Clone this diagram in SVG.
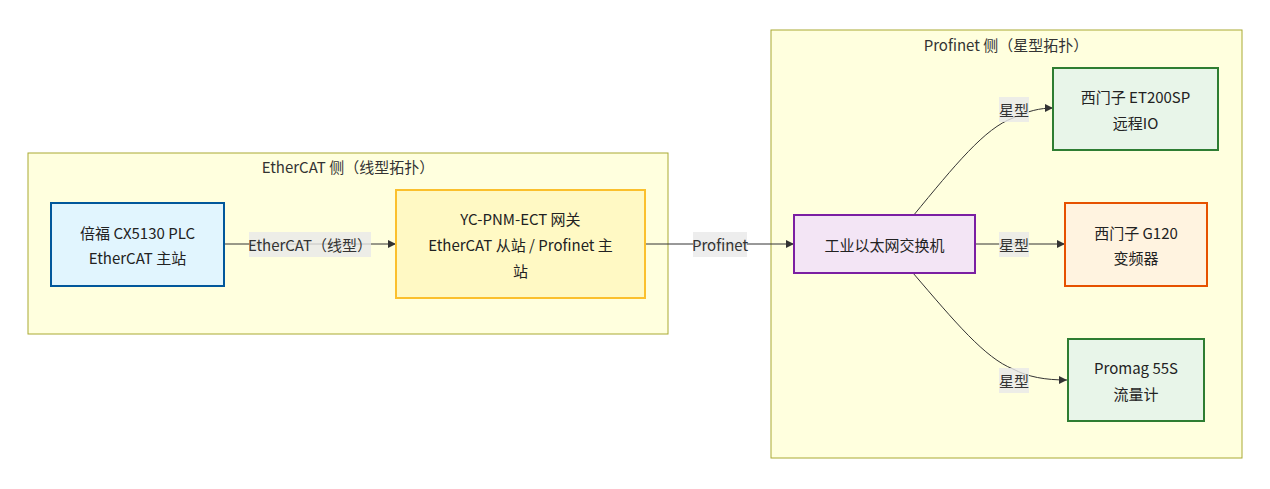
<svg xmlns="http://www.w3.org/2000/svg" width="1270" height="489" viewBox="0 0 1270 489">
<defs>
<marker id="arrow" viewBox="0 0 10 10" refX="10" refY="5" markerWidth="8" markerHeight="8" markerUnits="userSpaceOnUse" orient="auto">
<path d="M0,0 L10,5 L0,10 z" fill="#333333"/>
</marker>
</defs>
<style>
text{font-family:"Noto Sans CJK SC","Noto Sans",sans-serif;font-size:15px;fill:#333333;text-anchor:middle;dominant-baseline:central}
.cluster{fill:#ffffde;stroke:#aaaa33;stroke-width:1}
.node rect{stroke-width:2}
.edge{fill:none;stroke:#333333;stroke-width:1;marker-end:url(#arrow)}
.lbg{fill:#e8e8e8;opacity:0.8}
.ntext{fill:#222222}
</style>
<rect width="1270" height="489" fill="#ffffff"/>
<g id="cluster-ethercat">
<rect class="cluster" x="28" y="153" width="640" height="181"/>
<text x="348" y="166">EtherCAT 侧（线型拓扑）</text>
</g>
<g id="cluster-profinet">
<rect class="cluster" x="771" y="30" width="471" height="428"/>
<text x="1006" y="44">Profinet 侧（星型拓扑）</text>
</g>
<g id="connectors">
<path class="edge" d="M224,244 L396,244"/>
<path class="edge" d="M645,244 L794,244"/>
<path class="edge" d="M913,216 C955,165 985,128 1013,118 C1028,111 1040,108 1053,108"/>
<path class="edge" d="M975,244 L1065,244"/>
<path class="edge" d="M913,273 C955,322 985,358 1013,369 C1028,377 1045,380 1067,380"/>
<rect class="lbg" x="249" y="232" width="122" height="25"/>
<text x="310" y="244.5">EtherCAT（线型）</text>
<rect class="lbg" x="693" y="232" width="54" height="25"/>
<text x="720" y="244.5">Profinet</text>
<rect class="lbg" x="999" y="97" width="30" height="25"/>
<text x="1014" y="109.5">星型</text>
<rect class="lbg" x="999" y="232" width="30" height="25"/>
<text x="1014" y="244.5">星型</text>
<rect class="lbg" x="999" y="368" width="30" height="25"/>
<text x="1014" y="380.5">星型</text>
</g>
<g id="node-plc" class="node">
<rect x="51" y="203" width="173" height="83" fill="#e1f5fe" stroke="#01579b"/>
<text class="ntext" x="137.5" y="232">倍福 CX5130 PLC</text>
<text class="ntext" x="137.5" y="257">EtherCAT 主站</text>
</g>
<g id="node-gateway" class="node">
<rect x="396" y="190" width="249" height="108" fill="#fff9c4" stroke="#fbc02d"/>
<text class="ntext" x="520.5" y="218">YC-PNM-ECT 网关</text>
<text class="ntext" x="520.5" y="244">EtherCAT 从站 / Profinet 主</text>
<text class="ntext" x="520.5" y="270">站</text>
</g>
<g id="node-switch" class="node">
<rect x="794" y="215" width="181" height="58" fill="#f3e5f5" stroke="#7b1fa2"/>
<text class="ntext" x="884.5" y="244">工业以太网交换机</text>
</g>
<g id="node-et200sp" class="node">
<rect x="1053" y="68" width="165" height="82" fill="#e8f5e9" stroke="#2e7d32"/>
<text class="ntext" x="1135.5" y="96">西门子 ET200SP</text>
<text class="ntext" x="1135.5" y="122">远程IO</text>
</g>
<g id="node-g120" class="node">
<rect x="1065" y="203" width="142" height="83" fill="#fff3e0" stroke="#e65100"/>
<text class="ntext" x="1136" y="232">西门子 G120</text>
<text class="ntext" x="1136" y="257">变频器</text>
</g>
<g id="node-promag" class="node">
<rect x="1068" y="339" width="136" height="82" fill="#e8f5e9" stroke="#2e7d32"/>
<text class="ntext" x="1136" y="367">Promag 55S</text>
<text class="ntext" x="1136" y="393">流量计</text>
</g>
</svg>
